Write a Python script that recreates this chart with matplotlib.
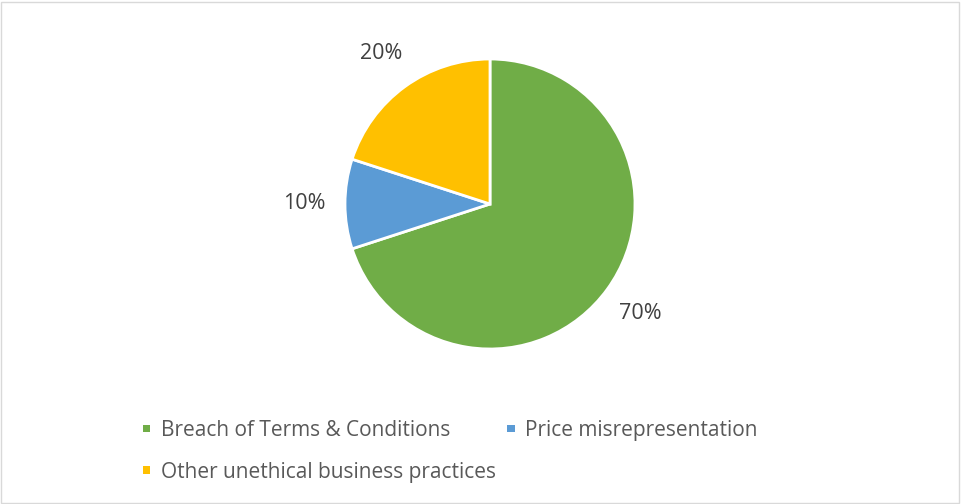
import matplotlib.pyplot as plt
from matplotlib.patches import Rectangle

categories = ["Breach of Terms & Conditions", "Price misrepresentation",
              "Other unethical business practices"]
shares = [70, 10, 20]
colors = ["#70AD47", "#5B9BD5", "#FFC000"]

plt.rcParams['font.family'] = ['Open Sans', 'DejaVu Sans']

fig = plt.figure(figsize=(9.61, 5.04), dpi=100)
fig.patches.append(Rectangle((0.001, 0.002), 0.997, 0.995, transform=fig.transFigure,
                             fill=False, edgecolor="#d9d9d9", linewidth=1))

# pie centre ~ (490, 204) px, radius ~145 px
ax = fig.add_axes([345 / 961, 155 / 504, 290 / 961, 290 / 504])
wedges, texts, autotexts = ax.pie(
    shares, colors=colors, startangle=90, counterclock=False,
    autopct='%d%%', pctdistance=1.28,
    wedgeprops=dict(edgecolor='white', linewidth=2),
    textprops=dict(fontsize=15.5, color='#404040'))
ax.set_xlim(-1, 1)
ax.set_ylim(-1, 1)
ax.set_aspect('equal')

# row-major order for a 2-column legend
order = [0, 2, 1]
leg = fig.legend([wedges[i] for i in order], [categories[i] for i in order],
                 ncol=2, loc='upper left', bbox_to_anchor=(124 / 961, 1 - 401 / 504),
                 frameon=False, fontsize=15, labelcolor='#595959',
                 handlelength=0.36, handleheight=0.15, handletextpad=0.5,
                 columnspacing=0.55, labelspacing=1.0)
for h in leg.legend_handles:
    h.set_edgecolor('none')

fig.savefig("out.png", dpi=100)
